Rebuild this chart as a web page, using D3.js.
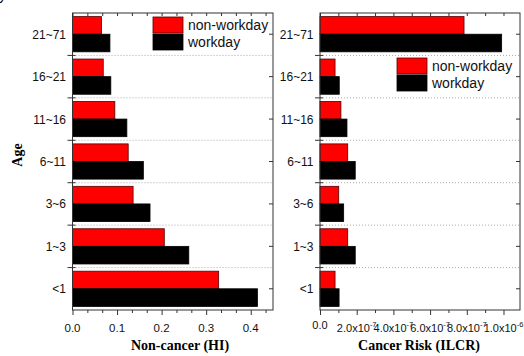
<!DOCTYPE html>
<html><head><meta charset="utf-8">
<script src="https://cdn.jsdelivr.net/npm/d3@7"></script>
<style>body{margin:0;background:#fff} svg{display:block}</style>
</head><body><svg id="c" width="524" height="356"></svg>
<script>
const ages = ["21~71","16~21","11~16","6~11","3~6","1~3","<1"];
const series = ["non-workday","workday"];
const hiNonWorkday = [0.065,0.069,0.095,0.125,0.136,0.206,0.328];
const hiWorkday    = [0.084,0.086,0.122,0.159,0.174,0.261,0.415];
const ilcrNonWorkday = [7.85e-7,0.82e-7,1.14e-7,1.51e-7,1.02e-7,1.51e-7,0.82e-7];
const ilcrWorkday    = [9.9e-7,1.05e-7,1.47e-7,1.92e-7,1.29e-7,1.92e-7,1.04e-7];
const hiTicks = [0,0.1,0.2,0.3,0.4];
const hiTickLabels = ["0.0","0.1","0.2","0.3","0.4"];
const ilcrTicks = [0,2e-7,4e-7,6e-7,8e-7,1e-6];
const ilcrTickLabels = [["0.0",""],["2.0x10","-7"],["4.0x10","-7"],["6.0x10","-7"],["8.0x10","-7"],["1.0x10","-6"]];
const colors = ["#ff0000","#000000"];

const svg = d3.select("#c");
const plotTop = 13, plotBottom = 310;
const sans = "'Liberation Sans', Arial, sans-serif";
const serif = "'Liberation Serif', 'Times New Roman', serif";

// clipped fragment at top-left
svg.append("text").attr("x",-1).attr("y",0).attr("font-family",sans).attr("font-size",14).text("y");

const y = d3.scaleBand().domain(ages).range([plotTop,plotBottom]).paddingInner(0.17).paddingOuter(0.085);
const sub = d3.scaleBand().domain(series).range([0,y.bandwidth()]);
const boundaries = ages.slice(1).map(a => y(a) - y.step()*y.paddingInner()/2);

function panel(cfg){
  const x = d3.scaleLinear().domain(cfg.domain).range([cfg.x0,cfg.x1]);
  const g = svg.append("g");
  g.selectAll("line.grid").data(boundaries).join("line")
    .attr("x1",cfg.x0).attr("x2",cfg.x1).attr("y1",d=>d).attr("y2",d=>d)
    .attr("stroke","#aaa").attr("stroke-width",1).attr("stroke-dasharray","1,2");
  const vals = [cfg.a, cfg.b];
  series.forEach((s,si)=>{
    g.selectAll("rect.s"+si).data(ages).join("rect")
      .attr("x",x(0)).attr("y",(d)=>y(d)+sub(s))
      .attr("width",(d,i)=>x(vals[si][i])-x(0)).attr("height",sub.bandwidth())
      .attr("fill",colors[si]).attr("stroke",si===0?"#500":"#000").attr("stroke-width",0.8);
  });
  g.append("rect").attr("x",cfg.x0).attr("y",plotTop).attr("width",cfg.x1-cfg.x0).attr("height",plotBottom-plotTop)
    .attr("fill","none").attr("stroke","#333").attr("stroke-width",1);
  const ax = g.append("g").attr("transform",`translate(0,${plotBottom})`)
    .call(d3.axisBottom(x).tickValues(cfg.ticks).tickSize(5).tickFormat(""));
  ax.select(".domain").remove();
  ax.selectAll("line").attr("stroke","#333");
  const minors = d3.range(cfg.domain[0], cfg.domain[1]+1e-12, cfg.minor).filter(v=>!cfg.ticks.some(t=>Math.abs(t-v)<cfg.minor/10));
  const mx = g.append("g").attr("transform",`translate(0,${plotBottom})`)
    .call(d3.axisBottom(x).tickValues(minors).tickSize(3).tickFormat(""));
  mx.select(".domain").remove(); mx.selectAll("line").attr("stroke","#333");
  const tx = g.append("g").attr("transform",`translate(0,${plotTop})`)
    .call(d3.axisTop(x).tickValues(cfg.ticks.concat(minors)).tickSize(-3).tickFormat(""));
  tx.select(".domain").remove(); tx.selectAll("line").attr("stroke","#333");
  g.selectAll("line.lt").data(boundaries).join("line")
    .attr("x1",cfg.x0-5).attr("x2",cfg.x0+3).attr("y1",d=>d).attr("y2",d=>d).attr("stroke","#333");
  g.selectAll("line.rt").data(ages).join("line")
    .attr("x1",cfg.x1-4).attr("x2",cfg.x1).attr("y1",d=>y(d)+y.bandwidth()/2).attr("y2",d=>y(d)+y.bandwidth()/2).attr("stroke","#333");
  g.selectAll("text.cat").data(ages).join("text")
    .attr("x",cfg.x0-6.5).attr("y",d=>y(d)+y.bandwidth()/2+4.5)
    .attr("text-anchor","end").attr("font-family",sans).attr("font-size",12).attr("fill","#111").text(d=>d);
  cfg.labels(g,x);
  g.append("text").attr("x",cfg.titleX).attr("y",350).attr("text-anchor","middle")
    .attr("font-family",serif).attr("font-weight","bold").attr("font-size",14).text(cfg.title);
  series.forEach((s,si)=>{
    g.append("rect").attr("x",cfg.lx).attr("y",cfg.ly+si*17).attr("width",30).attr("height",16)
      .attr("fill",colors[si]).attr("stroke",si===0?"#500":"#000").attr("stroke-width",0.8);
    g.append("text").attr("x",cfg.lx+35).attr("y",cfg.ly+si*17+12.5)
      .attr("font-family",sans).attr("font-size",14).attr("fill","#111").text(s);
  });
}

panel({x0:72.5,x1:273,domain:[0,0.45],ticks:hiTicks,minor:0.1/3,a:hiNonWorkday,b:hiWorkday,
  title:"Non-cancer (HI)",titleX:180,lx:153,ly:17,
  labels:(g,x)=>{
    g.selectAll("text.xl").data(hiTicks).join("text").attr("x",(d)=>x(d)).attr("y",332)
      .attr("text-anchor","middle").attr("font-family",sans).attr("font-size",11.5).attr("fill","#111")
      .text((d,i)=>hiTickLabels[i]);
  }});

panel({x0:320,x1:520,domain:[0,1.09e-6],ticks:ilcrTicks,minor:1e-7,a:ilcrNonWorkday,b:ilcrWorkday,
  title:"Cancer Risk (ILCR)",titleX:419,lx:397,ly:58,
  labels:(g,x)=>{
    ilcrTicks.forEach((t,i)=>{
      const tx = g.append("text").attr("x",x(t)).attr("y",i===0?329:332).attr("text-anchor","middle")
        .attr("font-family",sans).attr("font-size",11).attr("fill","#111");
      tx.append("tspan").text(ilcrTickLabels[i][0]);
      if (ilcrTickLabels[i][1]) tx.append("tspan").attr("dy",-5).attr("font-size",7.5).text(ilcrTickLabels[i][1]);
    });
  }});

svg.append("text").attr("transform","translate(22,155) rotate(-90)").attr("text-anchor","middle")
  .attr("font-family",serif).attr("font-weight","bold").attr("font-size",14).text("Age");
</script></body></html>
